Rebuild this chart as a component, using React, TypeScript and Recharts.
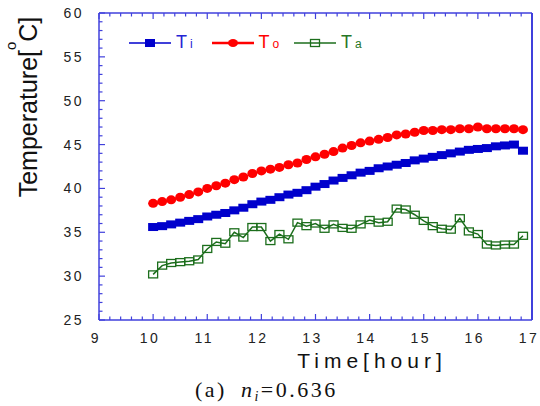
import React from "react";
import { LineChart, Line, XAxis, YAxis } from "recharts";

// Sampling times (minutes after midnight), every 10 minutes
const timeMin = [
  600, 610, 620, 630, 640, 650, 660, 670, 680, 690, 700, 710, 720, 730,
  740, 750, 760, 770, 780, 790, 800, 810, 820, 830, 840, 850, 860, 870,
  880, 890, 900, 910, 920, 930, 940, 950, 960, 970, 980, 990, 1000, 1010,
];

// Inner temperature Ti [°C]
const tempInner = [
  35.6, 35.7, 35.9, 36.1, 36.3, 36.5, 36.8, 37.0, 37.2, 37.5, 37.8, 38.2,
  38.5, 38.7, 39.0, 39.3, 39.5, 39.8, 40.2, 40.5, 40.9, 41.2, 41.5, 41.8,
  42.0, 42.3, 42.5, 42.7, 42.9, 43.2, 43.4, 43.6, 43.8, 44.0, 44.2, 44.4,
  44.5, 44.6, 44.8, 44.9, 45.0, 44.3,
];

// Outlet temperature To [°C]
const tempOutlet = [
  38.3, 38.5, 38.7, 39.0, 39.3, 39.6, 40.0, 40.3, 40.6, 41.0, 41.3, 41.7,
  42.0, 42.2, 42.4, 42.7, 42.9, 43.3, 43.6, 43.9, 44.2, 44.6, 44.9, 45.2,
  45.4, 45.6, 45.8, 46.1, 46.2, 46.4, 46.6, 46.6, 46.7, 46.7, 46.8, 46.8,
  47.0, 46.8, 46.8, 46.8, 46.8, 46.7,
];

// Ambient temperature Ta [°C]
const tempAmbient = [
  30.2, 31.2, 31.5, 31.6, 31.7, 31.9, 33.1, 33.9, 33.7, 35.0, 34.4, 35.6,
  35.6, 34.0, 34.8, 34.2, 36.1, 35.7, 36.0, 35.4, 35.9, 35.5, 35.4, 35.9,
  36.4, 36.1, 36.2, 37.7, 37.6, 37.0, 36.3, 35.7, 35.4, 35.3, 36.6, 35.1,
  34.8, 33.6, 33.5, 33.6, 33.6, 34.6,
];

// Labelled axis ticks
const hourTicks = [9, 10, 11, 12, 13, 14, 15, 16, 17];
const tempTicks = [25, 30, 35, 40, 45, 50, 55, 60];

const data = timeMin.map((m, i) => ({
  hour: m / 60,
  Ti: tempInner[i],
  To: tempOutlet[i],
  Ta: tempAmbient[i],
}));

// minor ticks: 0.2 h on x, 1 °C on y
const xAllTicks: number[] = [];
for (let k = hourTicks[0] * 5; k <= hourTicks[hourTicks.length - 1] * 5; k++) xAllTicks.push(k / 5);
const yAllTicks: number[] = [];
for (let v = tempTicks[0]; v <= tempTicks[tempTicks.length - 1]; v++) yAllTicks.push(v);

const AXIS = "#4040dc";
const BLUE = "#0000cc";
const RED = "#ff0000";
const GREEN = "#1c6e1c";
const SANS = "'Liberation Sans', Arial, sans-serif";
const SERIF = "'Liberation Serif', 'Times New Roman', serif";

const isMajorX = (v: number) => Math.abs(v - Math.round(v)) < 1e-6;
const isMajorY = (v: number) => Math.abs(v % 5) < 1e-6;

const BottomTick = (p: any) => {
  const v = p.payload.value;
  const major = isMajorX(v);
  return (
    <g>
      <line x1={p.x} x2={p.x} y1={p.y} y2={p.y - (major ? 6 : 3.5)} stroke={AXIS} strokeWidth={1.2} />
      {major && (
        <text x={p.x - 3} y={p.y + 23} textAnchor="middle" fontFamily={SANS} fontSize={14} letterSpacing={2.5} fill="#222">
          {Math.round(v)}
        </text>
      )}
    </g>
  );
};

const TopTick = (p: any) => {
  const major = isMajorX(p.payload.value);
  return <line x1={p.x} x2={p.x} y1={p.y} y2={p.y + (major ? 6 : 3.5)} stroke={AXIS} strokeWidth={1.2} />;
};

const LeftTick = (p: any) => {
  const v = p.payload.value;
  const major = isMajorY(v);
  return (
    <g>
      <line x1={p.x} x2={p.x + (major ? 6 : 3.5)} y1={p.y} y2={p.y} stroke={AXIS} strokeWidth={1.2} />
      {major && (
        <text x={p.x - 15} y={p.y + 5} textAnchor="end" fontFamily={SANS} fontSize={14} letterSpacing={2.5} fill="#222">
          {v}
        </text>
      )}
    </g>
  );
};

const RightTick = (p: any) => {
  const major = isMajorY(p.payload.value);
  return <line x1={p.x} x2={p.x - (major ? 6 : 3.5)} y1={p.y} y2={p.y} stroke={AXIS} strokeWidth={1.2} />;
};

const SquareDot = (p: any) => (
  <rect key={p.key} x={p.cx - 5} y={p.cy - 4} width={10} height={8} fill={BLUE} />
);
const CircleDot = (p: any) => (
  <ellipse key={p.key} cx={p.cx} cy={p.cy} rx={5} ry={4.5} fill={RED} />
);
const OpenSquareDot = (p: any) => (
  <rect key={p.key} x={p.cx - 4.5} y={p.cy - 3.5} width={9} height={7} fill="none" stroke={GREEN} strokeWidth={1.3} />
);

const legendItems = [
  { name: "T", sub: "i", color: BLUE, text: "#2424d4", lw: 1.5 },
  { name: "T", sub: "o", color: RED, text: RED, lw: 2.5 },
  { name: "T", sub: "a", color: GREEN, text: "#267626", lw: 1.5 },
];

const LegendMarker = ({ idx }: { idx: number }) => {
  if (idx === 0) return <rect x={16} y={2} width={10} height={8} fill={BLUE} />;
  if (idx === 1) return <ellipse cx={21} cy={6} rx={5} ry={4} fill={RED} />;
  return <rect x={16.5} y={2.5} width={9} height={7} fill="none" stroke={GREEN} strokeWidth={1.3} />;
};

const SeriesLegend = () => (
  <div style={{ position: "absolute", left: 129, top: 33, display: "flex", fontFamily: SANS }}>
    {legendItems.map((it, idx) => (
      <div key={idx} style={{ width: 82.5, height: 20, display: "flex", alignItems: "center" }}>
        <svg width={42} height={12} style={{ display: "block" }}>
          <line x1={0} x2={42} y1={6} y2={6} stroke={it.color} strokeWidth={it.lw} />
          <LegendMarker idx={idx} />
        </svg>
        <span style={{ marginLeft: 5, color: it.text, fontSize: 18, lineHeight: "20px" }}>
          {it.name}
          <span style={{ fontSize: 12, marginLeft: 3 }}>{it.sub}</span>
        </span>
      </div>
    ))}
  </div>
);

export default function App() {
  return (
    <div style={{ position: "absolute", left: 0, top: 0, width: 540, height: 406, background: "#fff" }}>
      <LineChart width={540} height={406} data={data} margin={{ top: 0, right: 0, bottom: 0, left: 0 }}>
        <XAxis
          xAxisId="b"
          dataKey="hour"
          type="number"
          domain={[9, 17]}
          ticks={xAllTicks}
          interval={0}
          height={86}
          tickSize={0}
          tickMargin={0}
          tickLine={false}
          tick={<BottomTick />}
          axisLine={{ stroke: AXIS, strokeWidth: 1.5 }}
        />
        <XAxis
          xAxisId="t"
          orientation="top"
          dataKey="hour"
          type="number"
          domain={[9, 17]}
          ticks={xAllTicks}
          interval={0}
          height={13}
          tickSize={0}
          tickMargin={0}
          tickLine={false}
          tick={<TopTick />}
          axisLine={{ stroke: AXIS, strokeWidth: 1.5 }}
        />
        <YAxis
          yAxisId="l"
          type="number"
          domain={[25, 60]}
          ticks={yAllTicks}
          interval={0}
          width={99}
          tickSize={0}
          tickMargin={0}
          tickLine={false}
          tick={<LeftTick />}
          axisLine={{ stroke: AXIS, strokeWidth: 1.5 }}
        />
        <YAxis
          yAxisId="r"
          orientation="right"
          type="number"
          domain={[25, 60]}
          ticks={yAllTicks}
          interval={0}
          width={8}
          tickSize={0}
          tickMargin={0}
          tickLine={false}
          tick={<RightTick />}
          axisLine={{ stroke: AXIS, strokeWidth: 2 }}
        />
        <Line
          xAxisId="b"
          yAxisId="l"
          dataKey="Ta"
          type="linear"
          stroke={GREEN}
          strokeWidth={1.5}
          dot={OpenSquareDot}
          isAnimationActive={false}
        />
        <Line
          xAxisId="b"
          yAxisId="l"
          dataKey="Ti"
          type="linear"
          stroke={BLUE}
          strokeWidth={1.2}
          dot={SquareDot}
          isAnimationActive={false}
        />
        <Line
          xAxisId="b"
          yAxisId="l"
          dataKey="To"
          type="linear"
          stroke={RED}
          strokeWidth={1.2}
          dot={CircleDot}
          isAnimationActive={false}
        />
      </LineChart>
      <SeriesLegend />
      <svg width={540} height={406} style={{ position: "absolute", left: 0, top: 0, pointerEvents: "none" }}>
        <text
          x={37}
          y={107}
          transform="rotate(-90 37 107)"
          textAnchor="middle"
          fontFamily={SANS}
          fontSize={25}
          fill="#111"
        >
          Temperature[
          <tspan dy={-21} fontSize={15}>o</tspan>
          <tspan dy={21}>C]</tspan>
        </text>
        <text x={372} y={368} textAnchor="middle" fontFamily={SANS} fontSize={21} letterSpacing={5} fill="#111">
          Time[hour]
        </text>
        <text x={195} y={397} fontFamily={SERIF} fontSize={22} letterSpacing={2.5} fill="#111">
          (a)
          <tspan dx={14} fontStyle="italic">n</tspan>
          <tspan dy={4} fontSize={14} fontStyle="italic">i</tspan>
          <tspan dy={-4}>=0.636</tspan>
        </text>
      </svg>
    </div>
  );
}
